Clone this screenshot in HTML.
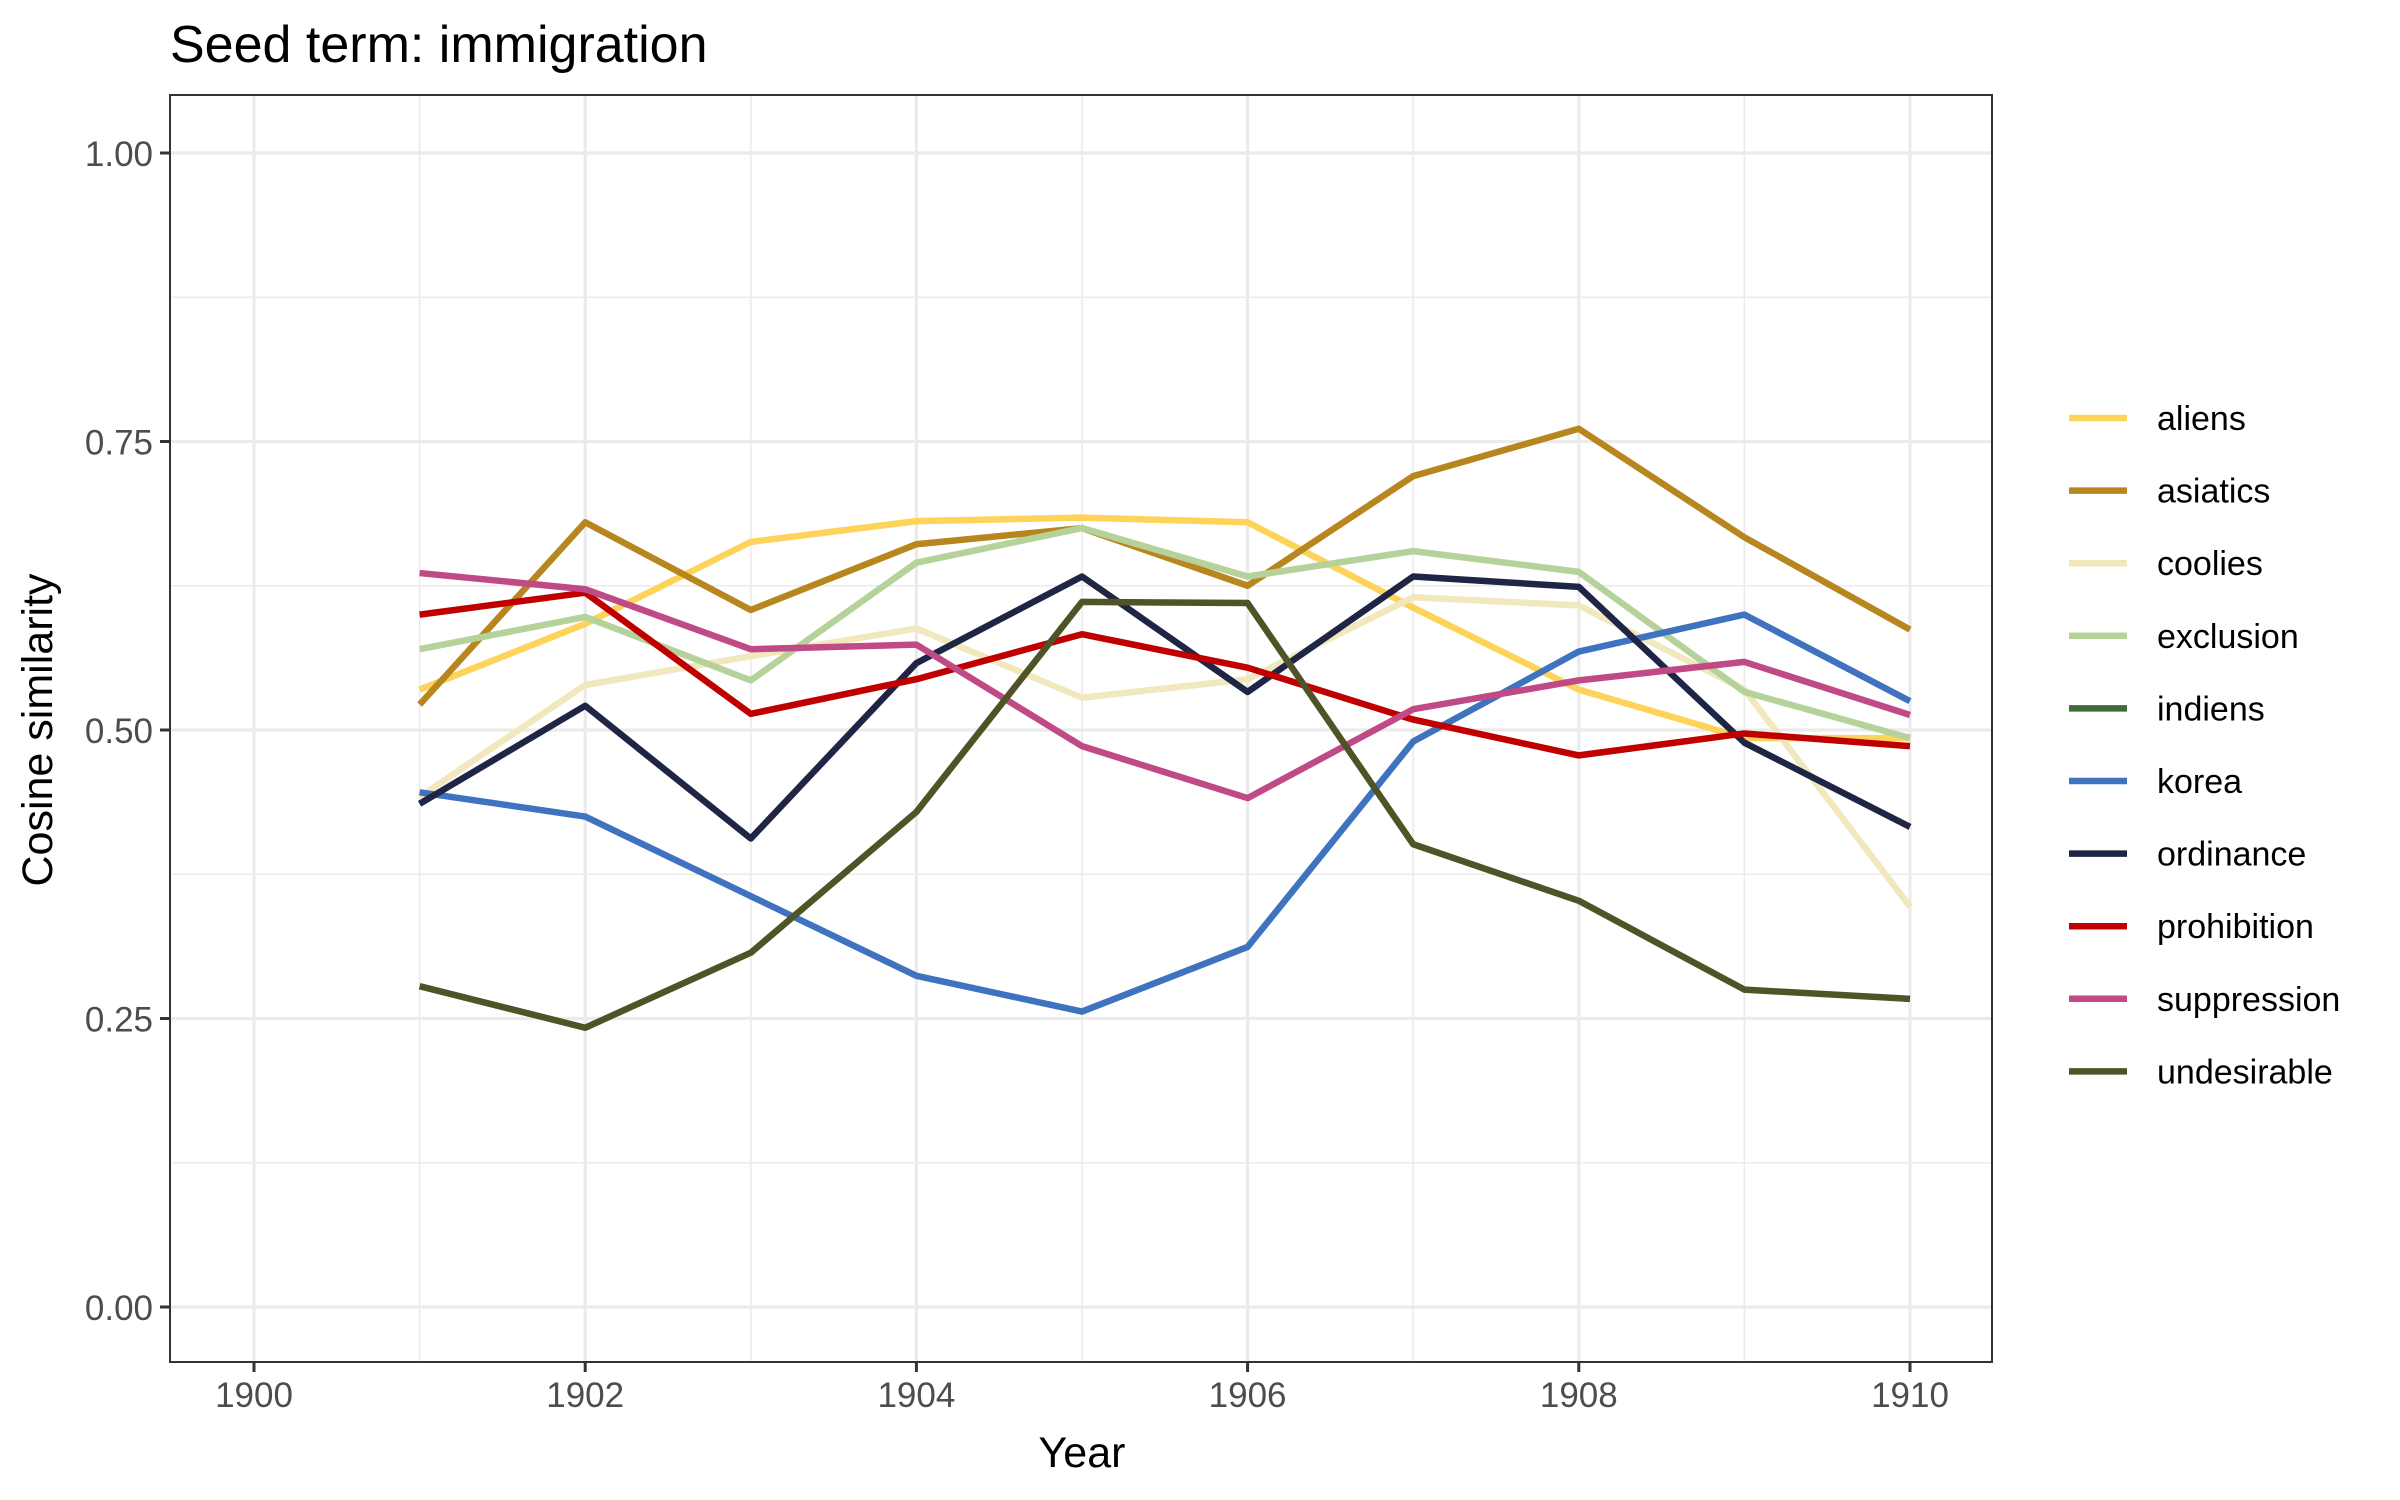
<!DOCTYPE html>
<html><head><meta charset="utf-8"><style>
html,body{margin:0;padding:0;background:#fff;}
svg{display:block;font-family:"Liberation Sans",Arial,sans-serif;}
</style></head><body>
<svg id="chart" width="2400" height="1500" viewBox="0 0 2400 1500" xmlns="http://www.w3.org/2000/svg">
<text x="170" y="62" font-size="52" fill="#000">Seed term: immigration</text>
<g id="grid"></g>
<g id="series"></g>
<rect x="170" y="95" width="1822" height="1267" fill="none" stroke="#333" stroke-width="2"/>
<g id="axes"></g>
<text x="1082" y="1467" font-size="43" text-anchor="middle" fill="#000">Year</text>
<text transform="translate(52,730) rotate(-90)" font-size="43" text-anchor="middle" fill="#000">Cosine similarity</text>
<g id="legend"></g>
</svg>
<script>
const years = [1901,1902,1903,1904,1905,1906,1907,1908,1909,1910];
const seriesNames = ["aliens","asiatics","coolies","exclusion","indiens","korea","ordinance","prohibition","suppression","undesirable"];
const seriesColors = ["#FDD35A","#B8861E","#F2E8BE","#B5D29A","#3E6B35","#3F72BF","#1F2544","#C00000","#C04A85","#4F5326"];
const aliens = [0.535,0.592,0.663,0.681,0.684,0.680,0.606,0.535,0.493,0.493];
const asiatics = [0.522,0.680,0.604,0.661,0.675,0.625,0.720,0.761,0.667,0.587];
const coolies = [0.442,0.539,0.564,0.588,0.528,0.544,0.615,0.608,0.535,0.347];
const exclusion = [0.570,0.598,0.543,0.645,0.675,0.633,0.655,0.637,0.533,0.493];
const indiens = [];
const korea = [0.446,0.425,0.356,0.287,0.256,0.312,0.490,0.568,0.600,0.525];
const ordinance = [0.436,0.521,0.406,0.558,0.633,0.533,0.633,0.624,0.489,0.416];
const prohibition = [0.600,0.619,0.514,0.544,0.583,0.554,0.509,0.478,0.497,0.486];
const suppression = [0.636,0.622,0.570,0.574,0.486,0.441,0.518,0.543,0.559,0.513];
const undesirable = [0.278,0.242,0.307,0.429,0.611,0.610,0.401,0.352,0.275,0.267];
const xTicks = [1900,1902,1904,1906,1908,1910];
const yTicks = [0,0.25,0.5,0.75,1];
const yTickLabels = ["0.00","0.25","0.50","0.75","1.00"];

const NS="http://www.w3.org/2000/svg";
const L=170,R=1992,T=95,B=1362;
function xs(v){return 254+(v-1900)*165.6;}
function ys(v){return 1307-v*1154;}
function mk(tag,attrs,parent){const e=document.createElementNS(NS,tag);for(const k in attrs)e.setAttribute(k,attrs[k]);parent.appendChild(e);return e;}
const grid=document.getElementById('grid'),axes=document.getElementById('axes'),ser=document.getElementById('series'),leg=document.getElementById('legend');
for(let i=0;i<4;i++){const v=0.125+i*0.25;const l=mk('line',{x1:L,x2:R,y1:ys(v),y2:ys(v),stroke:'#ebebeb','stroke-width':1.6},grid);

}
for(let y=1901;y<=1909;y+=2){const l=mk('line',{x1:xs(y),x2:xs(y),y1:T,y2:B,stroke:'#ebebeb','stroke-width':1.6},grid);

}
yTicks.forEach((v,i)=>{const l=mk('line',{x1:L,x2:R,y1:ys(v),y2:ys(v),stroke:'#ebebeb','stroke-width':3.2},grid);


const t=mk('line',{x1:L-10,x2:L,y1:ys(v),y2:ys(v),stroke:'#333','stroke-width':3},axes);


const tx=mk('text',{x:L-17,y:ys(v)+13,'font-size':35,'text-anchor':'end',fill:'#4d4d4d'},axes);tx.textContent=yTickLabels[i];

});
xTicks.forEach(v=>{const l=mk('line',{x1:xs(v),x2:xs(v),y1:T,y2:B,stroke:'#ebebeb','stroke-width':3.2},grid);


const t=mk('line',{x1:xs(v),x2:xs(v),y1:B,y2:B+10,stroke:'#333','stroke-width':3},axes);


const tx=mk('text',{x:xs(v),y:B+45,'font-size':35,'text-anchor':'middle',fill:'#4d4d4d'},axes);tx.textContent=v;

});
const data={aliens,asiatics,coolies,exclusion,indiens,korea,ordinance,prohibition,suppression,undesirable};
seriesNames.forEach((n,i)=>{const vals=data[n];if(vals.length){
const p=mk('polyline',{points:vals.map((v,j)=>xs(years[j])+','+ys(v)).join(' '),fill:'none',stroke:seriesColors[i],'stroke-width':6.5,'stroke-linejoin':'round'},ser);

}
const cy=418+i*72.6;
const g=mk('g',{},leg);


mk('line',{x1:2069,x2:2127,y1:cy,y2:cy,stroke:seriesColors[i],'stroke-width':6.5},g);
const t=mk('text',{x:2157,y:cy+12,'font-size':34,fill:'#000'},g);t.textContent=n;});
</script>
</body></html>
